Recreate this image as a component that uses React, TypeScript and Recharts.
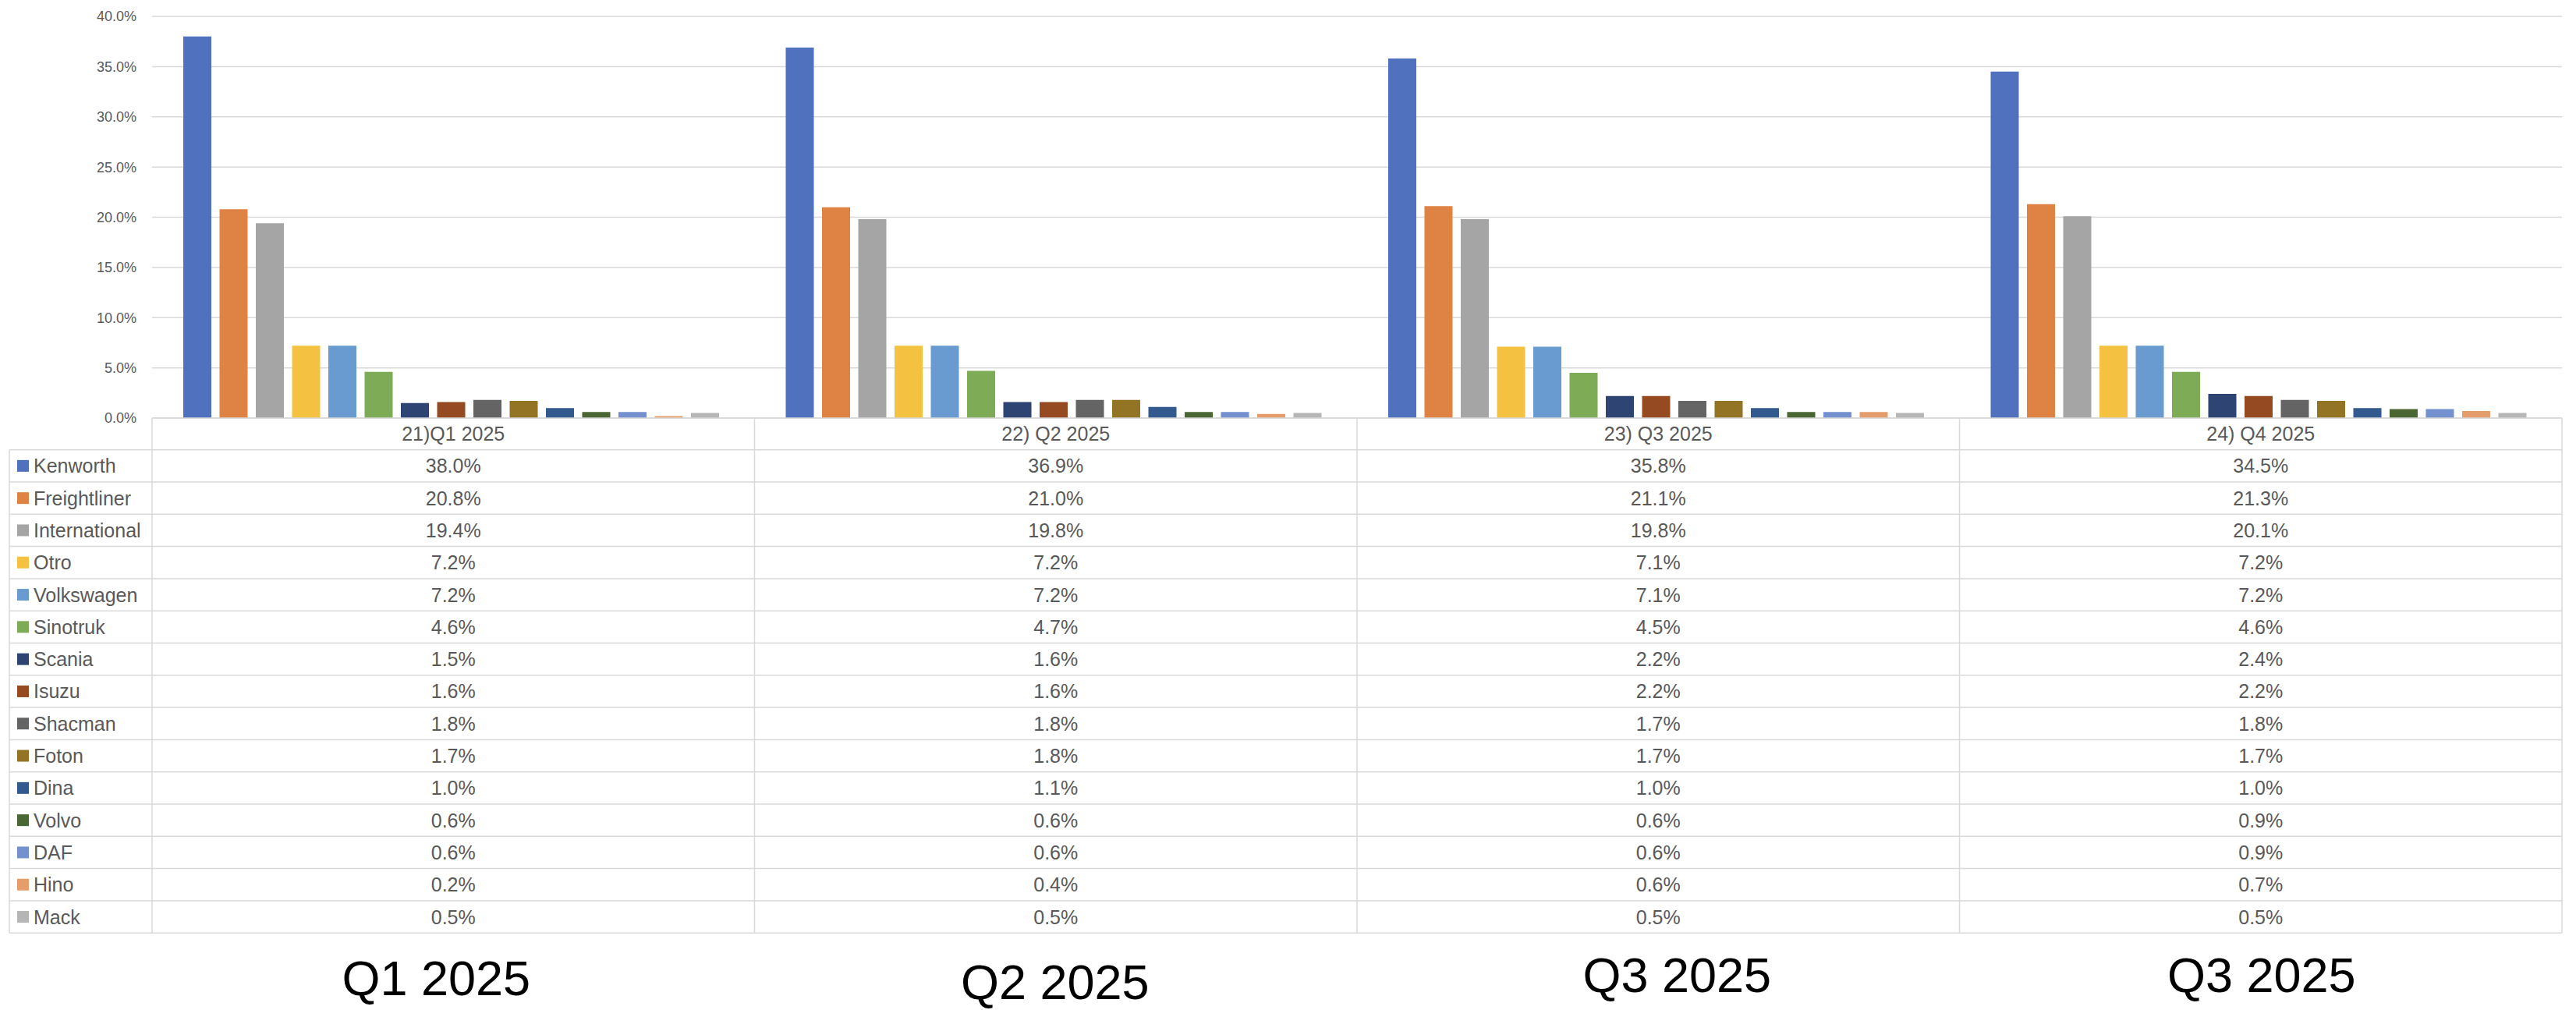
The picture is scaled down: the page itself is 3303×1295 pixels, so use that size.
import React from "react";
import { BarChart, Bar, XAxis, YAxis, CartesianGrid } from "recharts";

// ---------- data ----------
const categories = ["21)Q1 2025", "22) Q2 2025", "23) Q3 2025", "24) Q4 2025"];
const bottomLabels = ["Q1 2025", "Q2 2025", "Q3 2025", "Q3 2025"];
const brands = [
  "Kenworth", "Freightliner", "International", "Otro", "Volkswagen", "Sinotruk", "Scania",
  "Isuzu", "Shacman", "Foton", "Dina", "Volvo", "DAF", "Hino", "Mack",
];
const q1Values = [38.0, 20.8, 19.4, 7.2, 7.2, 4.6, 1.5, 1.6, 1.8, 1.7, 1.0, 0.6, 0.6, 0.2, 0.5];
const q2Values = [36.9, 21.0, 19.8, 7.2, 7.2, 4.7, 1.6, 1.6, 1.8, 1.8, 1.1, 0.6, 0.6, 0.4, 0.5];
const q3Values = [35.8, 21.1, 19.8, 7.1, 7.1, 4.5, 2.2, 2.2, 1.7, 1.7, 1.0, 0.6, 0.6, 0.6, 0.5];
const q4Values = [34.5, 21.3, 20.1, 7.2, 7.2, 4.6, 2.4, 2.2, 1.8, 1.7, 1.0, 0.9, 0.9, 0.7, 0.5];
const yTicks = [0, 5, 10, 15, 20, 25, 30, 35, 40];

// ---------- styles / layout ----------
const brandColors = [
  "#4F71BE", "#DE8344", "#A5A5A5", "#F4C141", "#699BD0", "#7EAB55", "#2E4574",
  "#954A21", "#646464", "#927424", "#335A8E", "#4A6733", "#7490CE", "#E59E6B", "#B6B6B6",
];
const CHART_W = 3303;
const CHART_H = 1295;
const MARGIN = { top: 21, right: 18, left: 0, bottom: 0 };
const Y_AXIS_W = 195;
const X_AXIS_H = 759;
const PLOT_W = CHART_W - MARGIN.left - MARGIN.right - Y_AXIS_W;
const COL_W = PLOT_W / categories.length;
const HEADER_H = 40.7;
const ROW_H = 41.3;
const TABLE_LEFT = 12;
const LINE = "#D9D9D9";
const TEXT = "#595959";
const FONT = "'Liberation Sans', Arial, sans-serif";
const labelNudgeX = [-22, -1, 24, 1];
const labelBaseline = [1276, 1281, 1272, 1272];

const seriesByCategory = [q1Values, q2Values, q3Values, q4Values];
const data = categories.map((cat, i) => {
  const row: Record<string, any> = { cat };
  brands.forEach((b, j) => {
    row[b] = seriesByCategory[i][j];
  });
  return row;
});

const fmt = (v: number) => `${v.toFixed(1)}%`;

const TableColumn = (props: any) => {
  const { x, y, payload, index } = props;
  const top = y;
  const left = x - COL_W / 2;
  const right = x + COL_W / 2;
  const rowsTop = top + HEADER_H;
  const bottom = rowsTop + brands.length * ROW_H;
  const values = seriesByCategory[index];
  const hLeft = index === 0 ? TABLE_LEFT : left;
  const els: any[] = [];

  for (let r = 0; r <= brands.length; r++) {
    const ly = rowsTop + r * ROW_H;
    els.push(<line key={`h${r}`} x1={hLeft} x2={right} y1={ly} y2={ly} stroke={LINE} strokeWidth={1.5} />);
  }
  if (index === 0) {
    els.push(<line key="vl0" x1={TABLE_LEFT} x2={TABLE_LEFT} y1={rowsTop} y2={bottom} stroke={LINE} strokeWidth={1.5} />);
    els.push(<line key="vl1" x1={left} x2={left} y1={top} y2={bottom} stroke={LINE} strokeWidth={1.5} />);
  }
  els.push(<line key="vr" x1={right} x2={right} y1={top} y2={bottom} stroke={LINE} strokeWidth={1.5} />);

  els.push(
    <text key="hdr" x={x} y={top + HEADER_H / 2} dy="0.36em" textAnchor="middle" fill={TEXT} fontSize={25} fontFamily={FONT}>
      {payload.value}
    </text>
  );
  values.forEach((v, r) => {
    els.push(
      <text key={`v${r}`} x={x} y={rowsTop + r * ROW_H + ROW_H / 2} dy="0.36em" textAnchor="middle" fill={TEXT} fontSize={25} fontFamily={FONT}>
        {fmt(v)}
      </text>
    );
  });
  if (index === 0) {
    brands.forEach((b, r) => {
      const cy = rowsTop + r * ROW_H + ROW_H / 2;
      els.push(<rect key={`m${r}`} x={22} y={cy - 7.5} width={15} height={15} fill={brandColors[r]} />);
      els.push(
        <text key={`l${r}`} x={43} y={cy} dy="0.36em" textAnchor="start" fill={TEXT} fontSize={25} fontFamily={FONT}>
          {b}
        </text>
      );
    });
  }
  els.push(
    <text key="big" x={x + labelNudgeX[index]} y={labelBaseline[index]} textAnchor="middle" fill="#000000" fontSize={63} fontFamily={FONT}>
      {bottomLabels[index]}
    </text>
  );
  return <g>{els}</g>;
};

const YTick = (props: any) => {
  const { x, y, payload } = props;
  return (
    <text x={x} y={y} dy="0.36em" textAnchor="end" fill={TEXT} fontSize={18} fontFamily={FONT}>
      {fmt(payload.value)}
    </text>
  );
};

export default function App() {
  return (
    <div style={{ position: "absolute", left: 0, top: 0, width: CHART_W, height: CHART_H, background: "#fff" }}>
      <BarChart
        width={CHART_W}
        height={CHART_H}
        data={data}
        margin={MARGIN}
        barCategoryGap={40}
        barGap={10.5}
      >
        <CartesianGrid vertical={false} stroke={LINE} strokeWidth={1.5} />
        <YAxis
          width={Y_AXIS_W}
          domain={[0, 40]}
          ticks={yTicks}
          axisLine={false}
          tickLine={false}
          tickSize={0}
          tickMargin={20}
          tick={<YTick />}
          interval={0}
        />
        <XAxis
          dataKey="cat"
          height={X_AXIS_H}
          axisLine={{ stroke: LINE, strokeWidth: 1.5 }}
          tickLine={false}
          tickSize={0}
          tickMargin={0}
          interval={0}
          tick={<TableColumn />}
        />
        {brands.map((b, i) => (
          <Bar key={b} dataKey={b} fill={brandColors[i]} isAnimationActive={false} />
        ))}
      </BarChart>
    </div>
  );
}
